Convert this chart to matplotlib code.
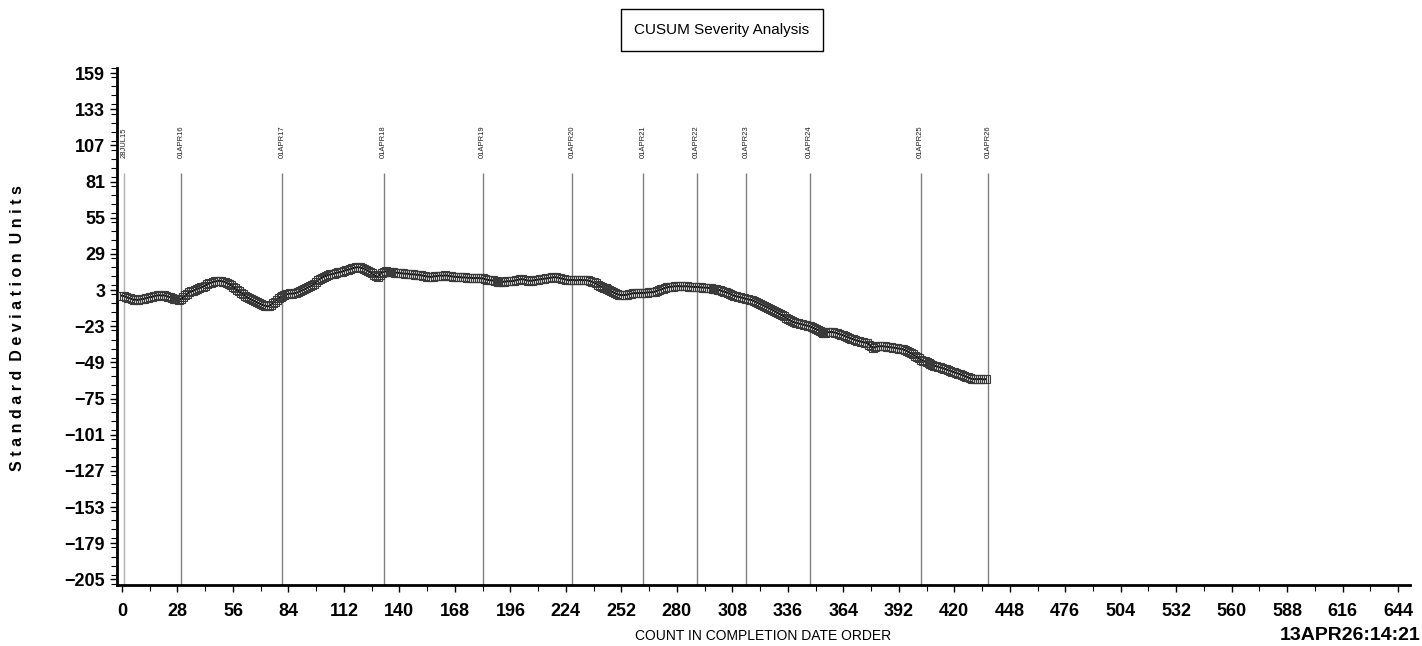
import numpy as np
import matplotlib
matplotlib.use('Agg')
import matplotlib.pyplot as plt
from matplotlib.ticker import MultipleLocator, FixedLocator

# DATA ######################################
# cusum value for each count (0..436)
cusum = [
    -1.0, -1.2, -1.8, -2.5, -2.9, -3.4, -4.0, -3.8, -4.1, -3.7,
    -3.5, -3.2, -2.8, -2.5, -2.0, -1.9, -1.4, -1.0, -0.8, -0.6,
    -0.9, -0.7, -1.0, -1.6, -2.0, -2.6, -3.1, -3.5, -3.6, -4.0,
    -3.2, -2.0, -0.8, 0.4, 1.5, 2.1, 2.6, 3.2, 3.9, 4.4,
    5.0, 5.6, 6.3, 7.1, 8.0, 8.4, 8.9, 9.3, 9.5, 9.8,
    9.6, 9.2, 9.0, 8.1, 7.4, 6.5, 5.4, 4.2, 3.0, 2.1,
    1.2, 0.3, -0.9, -2.0, -2.8, -3.6, -4.3, -5.0, -5.8, -6.4,
    -7.0, -7.6, -8.2, -8.5, -8.6, -7.8, -6.5, -5.2, -4.0, -3.0,
    -2.0, -1.3, -0.5, 0.0, 0.3, 0.6, 0.4, 0.8, 1.0, 1.6,
    2.4, 3.0, 3.5, 4.3, 5.1, 5.7, 6.5, 7.6, 8.9, 10.2,
    11.3, 12.0, 12.8, 13.3, 13.9, 14.3, 14.5, 14.9, 15.4, 15.7,
    16.0, 16.3, 16.9, 17.4, 17.7, 18.0, 18.6, 19.0, 19.3, 19.5,
    19.4, 18.9, 18.5, 17.8, 17.0, 16.2, 15.0, 14.0, 13.2, 12.5,
    13.8, 15.5, 16.2, 16.5, 16.3, 16.0, 16.1, 15.8, 15.5, 15.6,
    15.3, 15.1, 15.0, 14.8, 14.9, 14.6, 14.3, 14.5, 14.2, 14.0,
    14.0, 13.6, 13.4, 13.1, 12.8, 12.7, 12.5, 12.8, 13.0, 13.2,
    13.4, 13.5, 13.3, 13.6, 13.5, 13.2, 13.0, 12.8, 12.6, 12.5,
    12.4, 12.3, 12.1, 12.2, 12.0, 11.8, 11.9, 11.7, 11.6, 11.8,
    11.7, 11.5, 11.5, 11.0, 10.6, 10.3, 10.1, 10.0, 9.6, 9.3,
    9.2, 9.0, 9.0, 9.1, 9.3, 9.5, 9.4, 9.5, 9.8, 10.2,
    10.5, 10.8, 11.0, 10.6, 10.2, 9.9, 9.8, 9.8, 10.1, 10.4,
    10.6, 10.8, 11.0, 11.2, 11.4, 11.6, 11.9, 12.1, 12.3, 12.3,
    12.0, 11.6, 11.3, 11.0, 10.6, 10.3, 10.2, 10.4, 10.3, 10.1,
    10.2, 10.4, 10.3, 10.1, 10.2, 10.0, 9.6, 9.1, 8.5, 7.8,
    7.0, 6.2, 5.5, 4.9, 4.2, 3.6, 3.0, 2.2, 1.4, 0.7,
    0.0, -0.3, -0.6, -0.5, -0.5, -0.2, 0.2, 0.5, 0.8, 0.9,
    0.8, 0.9, 1.0, 1.0, 1.1, 1.3, 1.4, 1.5, 1.6, 2.0,
    2.5, 3.0, 3.5, 4.0, 4.5, 5.0, 5.3, 5.5, 5.6, 5.8,
    5.8, 5.9, 5.8, 5.7, 5.8, 5.8, 5.6, 5.5, 5.4, 5.3,
    5.3, 5.2, 5.0, 4.9, 4.8, 4.8, 4.6, 4.3, 4.0, 3.9,
    3.7, 3.3, 2.8, 2.3, 1.8, 1.5, 0.9, 0.3, -0.5, -1.0,
    -1.4, -1.8, -2.1, -2.5, -2.9, -3.3, -3.6, -3.9, -4.2, -4.8,
    -5.5, -6.2, -6.9, -7.5, -8.2, -8.9, -9.6, -10.3, -11.0, -11.8,
    -12.6, -13.4, -14.2, -15.0, -15.9, -16.8, -17.7, -18.6, -19.5, -20.0,
    -20.4, -20.8, -21.2, -21.5, -21.9, -22.3, -22.6, -23.0, -23.6, -24.2,
    -24.9, -25.5, -26.4, -27.2, -28.0, -27.7, -27.4, -27.0, -27.1, -27.2,
    -27.6, -28.1, -28.6, -29.0, -29.5, -30.1, -30.7, -31.2, -31.8, -32.3,
    -32.8, -33.3, -33.7, -34.0, -34.4, -34.7, -35.0, -36.2, -37.5, -38.5,
    -38.0, -37.5, -37.4, -37.3, -37.3, -37.5, -37.7, -37.9, -38.1, -38.3,
    -38.5, -38.7, -39.0, -39.2, -39.5, -40.0, -40.6, -41.5, -42.4, -43.2,
    -44.0, -45.0, -46.0, -47.0, -47.6, -48.2, -48.8, -49.4, -50.0, -50.6,
    -51.2, -51.7, -52.2, -52.6, -53.0, -53.5, -54.0, -54.5, -55.0, -55.5,
    -56.0, -56.5, -57.0, -57.5, -58.0, -58.6, -59.2, -59.8, -60.5, -60.8,
    -61.0, -61.0, -61.0, -60.9, -61.0, -61.1, -61.0,
]
count = np.arange(len(cusum))

# reference dates and the count where they fall
ref_counts = [1, 30, 81, 132, 182, 227, 263, 290, 315, 347, 403, 437]
ref_labels = ['28JUL15', '01APR16', '01APR17', '01APR18', '01APR19', '01APR20',
              '01APR21', '01APR22', '01APR23', '01APR24', '01APR25', '01APR26']

yticks = list(range(-205, 160, 26))
xticks = list(range(0, 645, 28))

# PLOT ######################################
plt.rcParams['font.family'] = ['Liberation Sans', 'DejaVu Sans']

fig = plt.figure(figsize=(14.22, 6.46), dpi=100)
ax = fig.add_axes([0.0823, 0.0944, 0.9093, 0.8003])

ax.set_xlim(-2.5, 650)
ax.set_ylim(-209, 162.7)

# reference lines and their date labels
for i, (xc, lab) in enumerate(zip(ref_counts, ref_labels)):
    col = '#b0b0b0' if i == 0 else '#808080'
    ax.vlines(xc, -209, 87, color=col, lw=1.0, zorder=1)
    ax.text(xc, 98, lab, rotation=90, ha='center', va='bottom',
            fontsize=5.5, color='#222222')

ax.plot(count, cusum, color='black', lw=1.4, marker='s', ms=5.5, mfc='none',
        mec='#3a3a3a', mew=0.8, zorder=3)

for s in ['top', 'right']:
    ax.spines[s].set_visible(False)
for s in ['left', 'bottom']:
    ax.spines[s].set_linewidth(2.0)

ax.yaxis.set_major_locator(FixedLocator(yticks))
ax.yaxis.set_minor_locator(MultipleLocator(6.5))
ax.xaxis.set_major_locator(FixedLocator(xticks))
ax.xaxis.set_minor_locator(MultipleLocator(14))
ax.tick_params(axis='both', which='major', length=5, width=1, labelsize=13, direction='out')
ax.tick_params(axis='both', which='minor', length=4, width=0.8, direction='out')
ax.tick_params(axis='x', pad=8)
for lab in ax.get_xticklabels() + ax.get_yticklabels():
    lab.set_fontweight('bold')

fig.text(763 / 1422, 1 - 636 / 646, 'COUNT IN COMPLETION DATE ORDER', ha='center',
         va='center', fontsize=10)

fig.text(18 / 1422, 1 - 328 / 646, 'S t a n d a r d  D e v i a t i o n  U n i t s',
         rotation=90, ha='center', va='center', fontsize=11.5, fontweight='bold')

fig.text(722 / 1422, 1 - 30 / 646, 'CUSUM Severity Analysis', ha='center', va='center',
         fontsize=11,
         bbox=dict(boxstyle='square,pad=0.9', fc='white', ec='black', lw=1.0))

fig.text(0.999, 1 - 636 / 646, '13APR26:14:21', ha='right', va='center',
         fontsize=14, fontweight='bold')

fig.savefig('out.png', dpi=100)
